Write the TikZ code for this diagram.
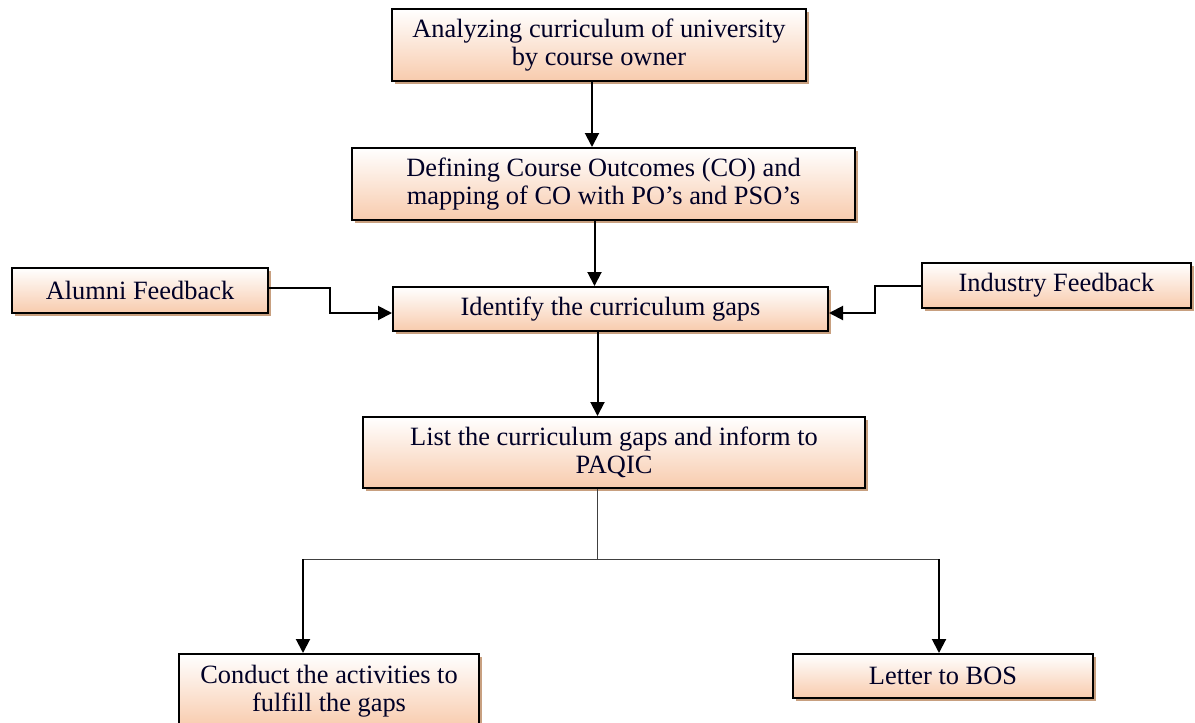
\documentclass[tikz,border=0pt]{standalone}
\usepackage{fontspec}
\setmainfont{Liberation Serif}
\usetikzlibrary{shadows,arrows.meta}
\definecolor{peach}{RGB}{248,203,173}
\definecolor{shadowc}{RGB}{200,160,128}
\tikzset{
  flowbox/.style={draw=black, line width=1pt, top color=white, bottom color=peach,
    drop shadow={shadow xshift=1.5pt, shadow yshift=-1.5pt, fill=shadowc, opacity=1},
    align=center, inner sep=2pt, font=\fontsize{13.2}{14}\selectfont, text=black!85!blue},
  arr/.style={line width=1pt, -{Triangle[length=7pt,width=7pt]}},
  thinline/.style={line width=0.5pt, draw=black!75}
}
\begin{document}
\begin{tikzpicture}[x=0.5pt,y=-0.5pt]
\useasboundingbox (0,0) rectangle (1195,723);
\node[flowbox, minimum width=207pt, minimum height=36pt] (b1) at (599,45) {Analyzing curriculum of university\\by course owner};
\node[flowbox, minimum width=251.5pt, minimum height=36pt] (b2) at (603.5,184) {Defining Course Outcomes (CO) and\\mapping of CO with PO’s and PSO’s};
\node[flowbox, minimum width=217.5pt, minimum height=22pt] (b3) at (610.5,309) {Identify the curriculum gaps};
\node[flowbox, minimum width=128pt, minimum height=22.5pt] (al) at (140,290.5) {Alumni Feedback};
\node[flowbox, minimum width=134.5pt, minimum height=22.5pt] (in) at (1056.5,285.5) {Industry Feedback};
\node[flowbox, minimum width=251pt, minimum height=35.5pt] (b4) at (614,452.5) {List the curriculum gaps and inform to\\PAQIC};
\node[flowbox, minimum width=150pt, minimum height=37pt] (co) at (329,691) {Conduct the activities to\\fulfill the gaps};
\node[flowbox, minimum width=150pt, minimum height=22pt] (le) at (943,676) {Letter to BOS};
\coordinate (ja) at (330,0);
\coordinate (ji) at (875,0);
\coordinate (spl) at (303,559);
\coordinate (spr) at (939,559);
\coordinate (spm) at (597,559);
\coordinate (b3w) at ([yshift=-2pt]b3.west);
\coordinate (b3e) at ([yshift=-2pt]b3.east);
\coordinate (ale) at ([yshift=1.5pt]al.east);
\draw[arr] ([xshift=-3.5pt]b1.south) -- ([xshift=-3.5pt]b1.south |- b2.north);
\draw[arr] ([xshift=-4.5pt]b2.south) -- ([xshift=-4.5pt]b2.south |- b3.north);
\draw[arr] ([xshift=-6.5pt]b3.south) -- ([xshift=-6.5pt]b3.south |- b4.north);
\draw[arr] (ale) -- (ale -| ja) -- (ja |- b3w) -- (b3w);
\draw[arr] (in.west) -- (in.west -| ji) -- (ji |- b3e) -- (b3e);
\draw[thinline] (b4.south -| spm) -- (spm);
\draw[thinline] (spl) -- (spr);
\draw[arr] (spl) -- (spl |- co.north);
\draw[arr] (spr) -- (spr |- le.north);
\end{tikzpicture}
\end{document}
